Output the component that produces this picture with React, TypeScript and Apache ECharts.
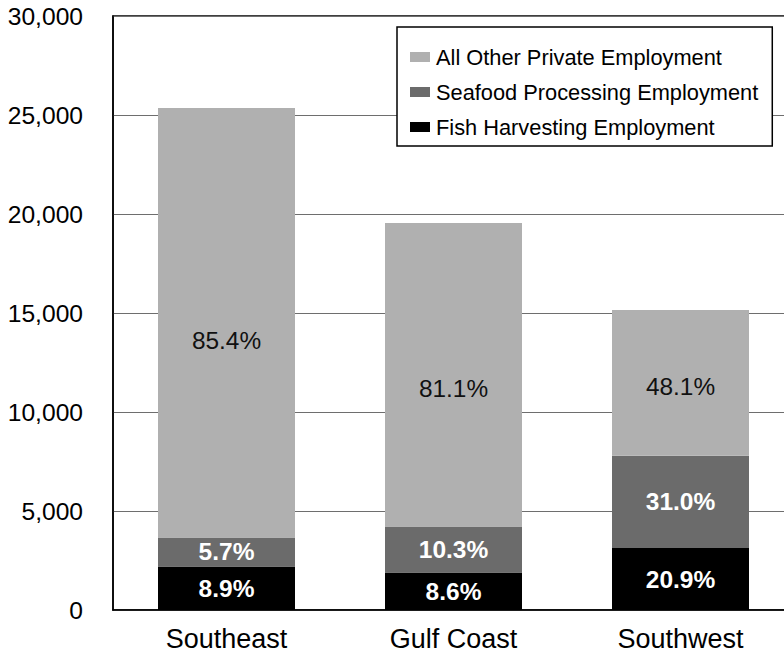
import React, { useEffect, useRef } from "react";
import * as echarts from "echarts";

const categories = ["Southeast", "Gulf Coast", "Southwest"];
const fishHarvesting = [2197, 1894, 3131];
const seafoodProcessing = [1465, 2323, 4662];
const allOtherPrivate = [21688, 15328, 7359];
const fishPct = ["8.9%", "8.6%", "20.9%"];
const seafoodPct = ["5.7%", "10.3%", "31.0%"];
const otherPct = ["85.4%", "81.1%", "48.1%"];
const yTicks = [0, 5000, 10000, 15000, 20000, 25000, 30000];

const FONT = "'Liberation Sans', Arial, sans-serif";
const otherLabelNudge = [18, 14, 4];

export default function App() {
  const ref = useRef<HTMLDivElement>(null);
  useEffect(() => {
    if (!ref.current) return;
    const chart = echarts.init(ref.current, null, { renderer: "svg" });
    chart.setOption({
      animation: false,
      backgroundColor: "#ffffff",
      textStyle: { fontFamily: FONT },
      grid: {
        left: 113,
        top: 16,
        right: 6,
        bottom: 48,
        show: true,
        borderColor: "#000",
        borderWidth: 1.5,
        backgroundColor: "transparent",
      },
      legend: {
        data: [
          "All Other Private Employment",
          "Seafood Processing Employment",
          "Fish Harvesting Employment",
        ],
        orient: "vertical",
        left: 397,
        top: 27,
        padding: [19, 14, 8, 13],
        itemGap: 13,
        itemWidth: 20,
        itemHeight: 10,
        borderColor: "#000",
        borderWidth: 1.5,
        backgroundColor: "#fff",
        icon: "rect",
        textStyle: { fontFamily: FONT, fontSize: 21.8, color: "#000", padding: [0, 0, 0, 1] },
      },
      xAxis: {
        type: "category",
        data: categories,
        axisLine: { show: true, lineStyle: { color: "#000", width: 1.5 } },
        axisTick: { show: false },
        axisLabel: { fontFamily: FONT, fontSize: 27, color: "#000", margin: 15 },
      },
      yAxis: {
        type: "value",
        min: yTicks[0],
        max: yTicks[yTicks.length - 1],
        interval: 5000,
        axisLine: { show: true, lineStyle: { color: "#000", width: 1.5 } },
        axisTick: { show: false },
        splitLine: { show: true, lineStyle: { color: "#6e6e6e", width: 1 } },
        axisLabel: {
          fontFamily: FONT,
          fontSize: 24.6,
          color: "#000",
          margin: 30,
          formatter: (v: number) => v.toLocaleString("en-US"),
        },
      },
      series: [
        {
          name: "Fish Harvesting Employment",
          type: "bar",
          stack: "total",
          barWidth: 137,
          itemStyle: { color: "#000000" },
          data: fishHarvesting,
          label: {
            show: true,
            position: "inside",
            color: "#fff",
            fontWeight: "bold",
            fontSize: 24.5,
            fontFamily: FONT,
            formatter: (p: any) => fishPct[p.dataIndex],
          },
        },
        {
          name: "Seafood Processing Employment",
          type: "bar",
          stack: "total",
          barWidth: 137,
          itemStyle: { color: "#6b6b6b" },
          data: seafoodProcessing,
          label: {
            show: true,
            position: "inside",
            color: "#fff",
            fontWeight: "bold",
            fontSize: 24.5,
            fontFamily: FONT,
            formatter: (p: any) => seafoodPct[p.dataIndex],
          },
        },
        {
          name: "All Other Private Employment",
          type: "bar",
          stack: "total",
          barWidth: 137,
          itemStyle: { color: "#b0b0b0" },
          data: allOtherPrivate.map((v, i) => ({
            value: v,
            label: { offset: [0, otherLabelNudge[i]] },
          })),
          label: {
            show: true,
            position: "inside",
            color: "#111",
            fontSize: 24.4,
            fontFamily: FONT,
            formatter: (p: any) => otherPct[p.dataIndex],
          },
        },
      ],
    });
    return () => chart.dispose();
  }, []);
  return (
    <div
      ref={ref}
      style={{ position: "fixed", left: 0, top: 0, width: 800, height: 658 }}
    />
  );
}
